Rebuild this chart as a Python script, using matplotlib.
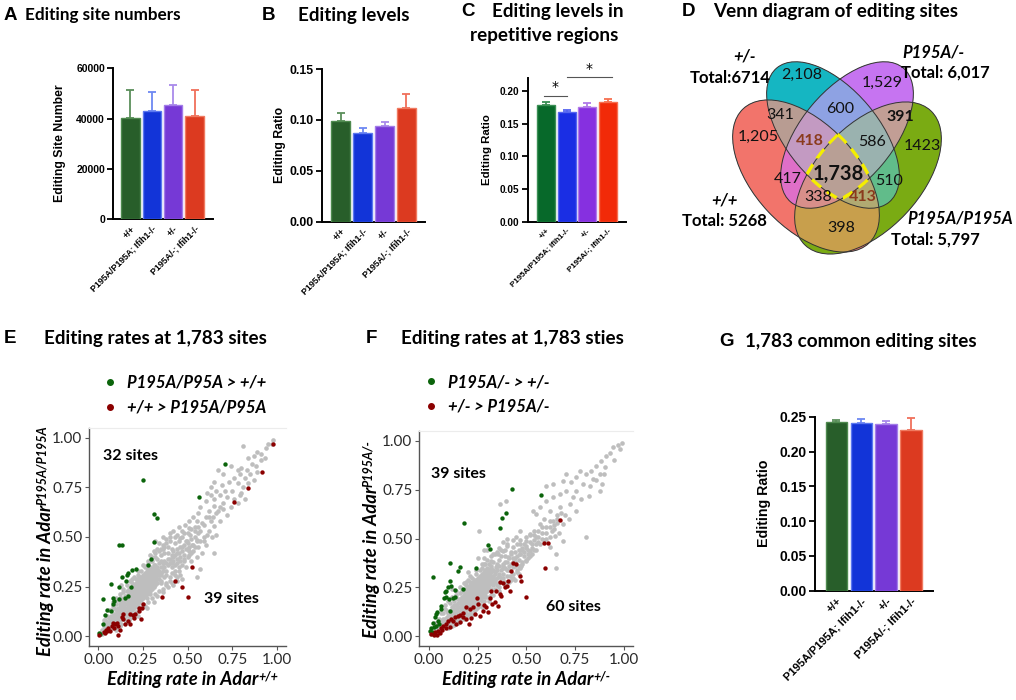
import numpy as np
import matplotlib
matplotlib.use('Agg')
from matplotlib import pyplot as plt
from matplotlib.patches import Ellipse
from matplotlib.lines import Line2D
import matplotlib.colors as mcolors

W, H = 1016, 700

# ---------------- data ----------------
groups = ['+/+', 'P195A/P195A; Ifih1-/-', '+/-', 'P195A/-; Ifih1-/-']

site_num = [40300, 43000, 45400, 41000]
site_num_err = [10900, 7700, 8100, 10200]

edit_level = [0.0989, 0.0868, 0.0943, 0.1113]
edit_level_err = [0.0081, 0.0049, 0.0033, 0.0145]

rep_level = [0.179, 0.168, 0.175, 0.183]
rep_level_err = [0.004, 0.003, 0.007, 0.005]

common_level = [0.2423, 0.2414, 0.2390, 0.2308]
common_level_err = [0.0034, 0.0057, 0.0053, 0.0178]

# venn regions, key = membership in (+/+, +/-, P195A/-, P195A/P195A)
venn_labels = {'1000': '1,205', '0100': '2,108', '0010': '1,529', '0001': '1423',
               '1100': '341', '0110': '600', '0011': '391', '1010': '417',
               '1001': '398', '0101': '510', '1110': '418', '0111': '586',
               '1011': '338', '1101': '413', '1111': '1,738'}
venn_sets = ['+/+', '+/-', 'P195A/-', 'P195A/P195A']
venn_totals = ['Total: 5268', 'Total:6714', 'Total: 6,017', 'Total: 5,797']

# scatter E: Adar+/+ (x) vs Adar P195A/P195A (y)
e_up = np.array([(0.707, 0.867), (0.249, 0.790), (0.566, 0.701), (0.314, 0.617), (0.331, 0.596),
                 (0.116, 0.462), (0.133, 0.459), (0.312, 0.475), (0.295, 0.391), (0.277, 0.358),
                 (0.210, 0.339), (0.191, 0.336), (0.168, 0.318), (0.161, 0.307), (0.133, 0.297),
                 (0.069, 0.264), (0.155, 0.277), (0.183, 0.249), (0.118, 0.247), (0.028, 0.188),
                 (0.081, 0.190), (0.088, 0.176), (0.116, 0.186), (0.148, 0.190), (0.051, 0.134),
                 (0.069, 0.129), (0.038, 0.106), (0.024, 0.059), (0.004, 0.017), (0.010, 0.009),
                 (0.081, 0.163), (0.165, 0.200)])
e_down = np.array([(0.980, 0.970), (0.916, 0.828), (0.839, 0.749), (0.759, 0.677), (0.525, 0.348),
                   (0.430, 0.277), (0.467, 0.249), (0.501, 0.199), (0.357, 0.197), (0.252, 0.163),
                   (0.243, 0.143), (0.230, 0.140), (0.206, 0.113), (0.193, 0.106), (0.178, 0.109),
                   (0.140, 0.113), (0.135, 0.096), (0.237, 0.084), (0.178, 0.059), (0.165, 0.076),
                   (0.103, 0.067), (0.093, 0.059), (0.081, 0.064), (0.075, 0.050), (0.112, 0.050),
                   (0.056, 0.039), (0.043, 0.030), (0.032, 0.022), (0.037, 0.014), (0.051, 0.025),
                   (0.112, 0.008), (0.006, 0.005), (0.140, 0.084), (0.200, 0.092), (0.066, 0.028),
                   (0.090, 0.042), (0.150, 0.060), (0.228, 0.126), (0.120, 0.030)])
e_gray = np.array([
    (0.98, 0.99), (0.97, 0.97), (0.95, 0.97), (0.94, 0.95), (0.81, 0.96), (0.89, 0.93), (0.91, 0.92),
    (0.87, 0.91), (0.84, 0.90), (0.91, 0.89), (0.86, 0.87), (0.80, 0.85), (0.83, 0.84), (0.78, 0.84),
    (0.89, 0.83), (0.74, 0.86), (0.79, 0.82), (0.82, 0.80), (0.85, 0.82), (0.76, 0.80), (0.87, 0.79),
    (0.70, 0.82), (0.73, 0.78), (0.78, 0.77), (0.81, 0.75), (0.80, 0.72), (0.79, 0.71), (0.82, 0.69),
    (0.75, 0.73), (0.69, 0.76), (0.71, 0.73), (0.66, 0.73), (0.68, 0.71), (0.72, 0.70), (0.78, 0.67),
    (0.70, 0.67), (0.65, 0.69), (0.63, 0.71), (0.67, 0.84), (0.645, 0.78), (0.63, 0.75), (0.61, 0.72),
    (0.60, 0.68), (0.645, 0.655), (0.67, 0.63), (0.70, 0.64), (0.62, 0.63), (0.57, 0.65), (0.56, 0.62),
    (0.60, 0.60), (0.63, 0.58), (0.645, 0.555), (0.68, 0.58), (0.72, 0.61), (0.59, 0.56), (0.55, 0.58),
    (0.53, 0.60), (0.51, 0.58), (0.54, 0.55), (0.57, 0.53), (0.61, 0.51), (0.635, 0.50), (0.66, 0.51),
    (0.88, 0.86), (0.93, 0.90), (0.76, 0.69), (0.84, 0.77), (0.74, 0.65),
    (0.505, 0.546), (0.486, 0.563), (0.467, 0.529), (0.514, 0.512), (0.552, 0.487), (0.589, 0.479),
    (0.523, 0.462), (0.495, 0.479), (0.458, 0.496), (0.439, 0.512), (0.45, 0.55), (0.42, 0.53),
    (0.40, 0.50), (0.43, 0.47), (0.47, 0.45), (0.50, 0.44), (0.53, 0.43), (0.56, 0.45), (0.38, 0.47),
    (0.41, 0.44), (0.44, 0.42), (0.48, 0.41), (0.46, 0.38), (0.42, 0.40), (0.39, 0.42), (0.36, 0.44),
    (0.35, 0.41), (0.37, 0.38), (0.40, 0.37), (0.43, 0.36), (0.45, 0.33), (0.49, 0.35), (0.52, 0.38),
    (0.55, 0.40), (0.34, 0.47), (0.33, 0.44), (0.32, 0.40), (0.34, 0.37), (0.36, 0.35), (0.38, 0.33),
    (0.41, 0.32), (0.44, 0.30), (0.47, 0.29), (0.40, 0.28), (0.37, 0.30), (0.35, 0.32), (0.33, 0.34),
    (0.31, 0.36), (0.30, 0.38), (0.29, 0.41), (0.31, 0.43), (0.28, 0.36), (0.42, 0.26), (0.38, 0.26),
    (0.35, 0.28), (0.60, 0.46), (0.58, 0.42), (0.48, 0.52), (0.36, 0.50), (0.32, 0.48), (0.65, 0.42),
    (0.57, 0.34), (0.55, 0.30),
    (0.01, 0.01), (0.02, 0.03), (0.03, 0.02), (0.03, 0.05), (0.04, 0.04), (0.05, 0.03), (0.05, 0.07),
    (0.06, 0.05), (0.06, 0.09), (0.07, 0.06), (0.07, 0.10), (0.08, 0.04), (0.08, 0.08), (0.09, 0.07),
    (0.09, 0.11), (0.10, 0.09), (0.10, 0.13), (0.10, 0.06), (0.11, 0.10), (0.11, 0.14), (0.12, 0.08),
    (0.12, 0.12), (0.12, 0.16), (0.13, 0.11), (0.13, 0.15), (0.14, 0.09), (0.14, 0.13), (0.14, 0.17),
    (0.15, 0.12), (0.15, 0.16), (0.15, 0.20), (0.16, 0.10), (0.16, 0.14), (0.16, 0.18), (0.17, 0.13),
    (0.17, 0.17), (0.17, 0.21), (0.18, 0.12), (0.18, 0.16), (0.18, 0.20), (0.18, 0.24), (0.19, 0.15),
    (0.19, 0.19), (0.19, 0.23), (0.20, 0.14), (0.20, 0.18), (0.20, 0.22), (0.20, 0.26), (0.21, 0.17),
    (0.21, 0.21), (0.21, 0.25), (0.22, 0.16), (0.22, 0.20), (0.22, 0.24), (0.22, 0.28), (0.23, 0.19),
    (0.23, 0.23), (0.23, 0.27), (0.24, 0.18), (0.24, 0.22), (0.24, 0.26), (0.24, 0.30), (0.25, 0.21),
    (0.25, 0.25), (0.25, 0.29), (0.26, 0.20), (0.26, 0.24), (0.26, 0.28), (0.26, 0.32), (0.27, 0.23),
    (0.27, 0.27), (0.27, 0.31), (0.28, 0.22), (0.28, 0.26), (0.28, 0.30), (0.28, 0.34), (0.29, 0.25),
    (0.29, 0.29), (0.29, 0.33), (0.30, 0.24), (0.30, 0.28), (0.30, 0.32), (0.31, 0.27), (0.31, 0.31),
    (0.31, 0.35), (0.32, 0.30), (0.32, 0.34), (0.33, 0.29), (0.33, 0.32), (0.34, 0.31), (0.05, 0.10),
    (0.04, 0.08), (0.07, 0.13), (0.09, 0.14), (0.11, 0.18), (0.13, 0.19), (0.14, 0.22), (0.16, 0.23),
    (0.19, 0.27), (0.21, 0.29), (0.12, 0.05), (0.15, 0.08), (0.18, 0.09), (0.20, 0.11), (0.23, 0.14),
    (0.25, 0.16), (0.27, 0.19), (0.29, 0.21), (0.10, 0.03), (0.03, 0.08), (0.13, 0.26), (0.22, 0.33),
    (0.25, 0.36), (0.08, 0.15), (0.32, 0.26), (0.35, 0.27),
    (0.02, 0.01), (0.04, 0.02), (0.04, 0.06), (0.06, 0.03), (0.06, 0.07), (0.08, 0.06), (0.08, 0.10),
    (0.09, 0.05), (0.10, 0.11), (0.11, 0.08), (0.11, 0.12), (0.12, 0.10), (0.12, 0.14), (0.13, 0.09),
    (0.13, 0.13), (0.13, 0.17), (0.14, 0.11), (0.14, 0.15), (0.15, 0.10), (0.15, 0.14), (0.15, 0.18),
    (0.16, 0.12), (0.16, 0.16), (0.16, 0.20), (0.17, 0.11), (0.17, 0.15), (0.17, 0.19), (0.18, 0.14),
    (0.18, 0.18), (0.18, 0.22), (0.19, 0.13), (0.19, 0.17), (0.19, 0.21), (0.19, 0.25), (0.20, 0.16),
    (0.20, 0.20), (0.20, 0.24), (0.21, 0.15), (0.21, 0.19), (0.21, 0.23), (0.21, 0.27), (0.22, 0.18),
    (0.22, 0.22), (0.22, 0.26), (0.23, 0.17), (0.23, 0.21), (0.23, 0.25), (0.23, 0.29), (0.24, 0.20),
    (0.24, 0.24), (0.24, 0.28), (0.25, 0.19), (0.25, 0.23), (0.25, 0.27), (0.25, 0.31), (0.26, 0.22),
    (0.26, 0.26), (0.26, 0.30), (0.27, 0.21), (0.27, 0.25), (0.27, 0.29), (0.27, 0.33), (0.28, 0.24),
    (0.28, 0.28), (0.28, 0.32), (0.29, 0.23), (0.29, 0.27), (0.29, 0.31), (0.29, 0.35), (0.30, 0.26),
    (0.30, 0.30), (0.30, 0.34), (0.31, 0.25), (0.31, 0.29), (0.31, 0.33), (0.32, 0.28), (0.32, 0.32),
    (0.32, 0.36), (0.33, 0.27), (0.33, 0.31), (0.33, 0.35), (0.34, 0.29), (0.34, 0.33), (0.35, 0.31),
    (0.35, 0.35), (0.36, 0.33), (0.36, 0.37), (0.37, 0.35), (0.38, 0.37), (0.39, 0.36), (0.39, 0.39),
    (0.40, 0.39), (0.41, 0.37), (0.41, 0.41), (0.42, 0.38), (0.42, 0.43), (0.43, 0.41), (0.44, 0.39),
    (0.44, 0.44), (0.45, 0.42), (0.46, 0.40), (0.46, 0.45), (0.47, 0.43), (0.48, 0.46), (0.49, 0.44),
    (0.50, 0.47), (0.51, 0.45), (0.52, 0.49), (0.53, 0.46), (0.54, 0.50), (0.55, 0.48), (0.56, 0.52),
    (0.37, 0.42), (0.39, 0.45), (0.35, 0.38), (0.38, 0.31), (0.43, 0.33), (0.47, 0.36), (0.51, 0.41),
    (0.05, 0.05), (0.07, 0.08), (0.09, 0.09), (0.10, 0.10), (0.11, 0.06)])
# outer edges of the E cloud
e_gray_wide = np.array([
    (0.06, 0.13), (0.08, 0.17), (0.10, 0.19), (0.12, 0.21), (0.14, 0.24), (0.16, 0.26), (0.18, 0.28),
    (0.20, 0.30), (0.22, 0.31), (0.24, 0.33), (0.26, 0.35), (0.28, 0.38), (0.30, 0.40), (0.32, 0.42),
    (0.34, 0.43), (0.36, 0.46), (0.38, 0.49), (0.40, 0.52), (0.10, 0.16), (0.12, 0.19), (0.17, 0.24),
    (0.19, 0.29), (0.23, 0.30), (0.27, 0.36), (0.29, 0.38), (0.33, 0.39), (0.35, 0.44),
    (0.10, 0.04), (0.13, 0.06), (0.16, 0.07), (0.19, 0.10), (0.21, 0.12), (0.24, 0.14), (0.26, 0.15),
    (0.28, 0.17), (0.30, 0.19), (0.32, 0.21), (0.34, 0.23), (0.36, 0.24), (0.38, 0.27), (0.40, 0.30),
    (0.43, 0.31), (0.45, 0.35), (0.48, 0.38), (0.50, 0.40), (0.52, 0.42), (0.17, 0.08), (0.22, 0.10),
    (0.27, 0.14), (0.31, 0.17), (0.33, 0.20), (0.36, 0.22), (0.39, 0.25), (0.41, 0.27), (0.44, 0.28),
    (0.46, 0.31),
    (0.37, 0.45), (0.40, 0.48), (0.43, 0.50), (0.45, 0.48), (0.47, 0.50), (0.49, 0.48), (0.50, 0.52),
    (0.52, 0.54), (0.54, 0.53), (0.56, 0.55), (0.58, 0.57), (0.41, 0.35), (0.44, 0.37), (0.48, 0.39),
    (0.51, 0.43), (0.54, 0.45), (0.57, 0.48), (0.59, 0.50), (0.62, 0.53), (0.64, 0.60), (0.66, 0.62),
    (0.68, 0.65), (0.62, 0.60)])

# scatter F: Adar+/- (x) vs Adar P195A/- (y)
f_up = np.array([(0.426, 0.753), (0.577, 0.722), (0.394, 0.628), (0.375, 0.603), (0.180, 0.579),
                 (0.363, 0.553), (0.304, 0.468), (0.315, 0.446), (0.106, 0.373), (0.161, 0.356),
                 (0.149, 0.335), (0.243, 0.349), (0.021, 0.305), (0.110, 0.284), (0.115, 0.259),
                 (0.175, 0.241), (0.132, 0.199), (0.081, 0.225), (0.089, 0.233), (0.098, 0.250),
                 (0.059, 0.156), (0.106, 0.131), (0.075, 0.196), (0.038, 0.114), (0.029, 0.097),
                 (0.046, 0.080), (0.021, 0.066), (0.034, 0.054), (0.012, 0.042), (0.004, 0.029),
                 (0.024, 0.046), (0.052, 0.063), (0.123, 0.196), (0.086, 0.203), (0.064, 0.139),
                 (0.042, 0.122), (0.103, 0.191), (0.135, 0.237), (0.017, 0.020)])
f_down = np.array([(0.671, 0.595), (0.589, 0.477), (0.611, 0.477), (0.596, 0.349), (0.432, 0.373),
                   (0.449, 0.369), (0.474, 0.285), (0.500, 0.199), (0.363, 0.276), (0.380, 0.271),
                   (0.401, 0.259), (0.415, 0.233), (0.372, 0.208), (0.363, 0.216), (0.312, 0.196),
                   (0.326, 0.165), (0.295, 0.148), (0.247, 0.196), (0.226, 0.151), (0.209, 0.139),
                   (0.192, 0.151), (0.175, 0.117), (0.158, 0.110), (0.149, 0.105), (0.132, 0.097),
                   (0.115, 0.088), (0.098, 0.080), (0.206, 0.063), (0.175, 0.097), (0.086, 0.063),
                   (0.072, 0.052), (0.059, 0.042), (0.046, 0.029), (0.029, 0.020), (0.012, 0.012),
                   (0.123, 0.077), (0.141, 0.063), (0.106, 0.049), (0.089, 0.042), (0.069, 0.032),
                   (0.337, 0.174), (0.389, 0.250), (0.303, 0.122), (0.260, 0.105), (0.320, 0.233),
                   (0.466, 0.310), (0.423, 0.335), (0.277, 0.131), (0.234, 0.114), (0.192, 0.088),
                   (0.158, 0.071), (0.055, 0.015), (0.346, 0.233), (0.406, 0.284), (0.355, 0.156),
                   (0.252, 0.165), (0.040, 0.008), (0.025, 0.005), (0.215, 0.095), (0.285, 0.160)])
f_gray = np.array([
    (0.99, 0.99), (0.97, 0.98), (0.98, 0.96), (0.945, 0.966), (0.911, 0.923), (0.885, 0.898),
    (0.903, 0.864), (0.860, 0.872), (0.834, 0.847), (0.877, 0.830), (0.842, 0.804), (0.808, 0.830),
    (0.774, 0.847), (0.757, 0.813), (0.731, 0.787), (0.706, 0.830), (0.688, 0.796), (0.791, 0.779),
    (0.826, 0.770), (0.877, 0.744), (0.757, 0.744), (0.706, 0.744), (0.671, 0.727), (0.637, 0.779),
    (0.603, 0.770), (0.637, 0.710), (0.603, 0.693), (0.569, 0.659), (0.551, 0.625), (0.534, 0.642),
    (0.671, 0.659), (0.723, 0.676), (0.757, 0.642), (0.808, 0.506), (0.688, 0.574), (0.637, 0.591),
    (0.603, 0.557), (0.569, 0.574), (0.542, 0.540), (0.517, 0.523), (0.500, 0.489), (0.466, 0.472),
    (0.551, 0.506), (0.646, 0.514), (0.688, 0.489), (0.654, 0.421), (0.620, 0.455), (0.466, 0.540),
    (0.449, 0.506), (0.432, 0.455), (0.652, 0.348), (0.257, 0.536), (0.363, 0.676), (0.397, 0.693),
    (0.93, 0.94), (0.86, 0.80), (0.82, 0.72), (0.78, 0.70), (0.74, 0.71), (0.70, 0.62), (0.72, 0.60),
    (0.66, 0.62), (0.62, 0.64), (0.59, 0.60), (0.58, 0.53), (0.60, 0.50), (0.63, 0.54), (0.67, 0.53),
    (0.56, 0.48), (0.53, 0.47), (0.90, 0.83), (0.95, 0.90), (0.89, 0.78),
    (0.380, 0.438), (0.406, 0.403), (0.466, 0.421), (0.500, 0.386), (0.517, 0.438), (0.355, 0.421),
    (0.320, 0.386), (0.346, 0.352), (0.380, 0.369), (0.432, 0.352), (0.474, 0.361), (0.380, 0.318),
    (0.415, 0.310), (0.44, 0.40), (0.48, 0.44), (0.50, 0.45), (0.42, 0.43), (0.40, 0.46), (0.36, 0.39),
    (0.33, 0.42), (0.31, 0.37), (0.34, 0.33), (0.37, 0.30), (0.40, 0.34), (0.45, 0.33), (0.49, 0.41),
    (0.53, 0.42), (0.55, 0.44), (0.39, 0.41), (0.43, 0.38), (0.46, 0.36), (0.35, 0.36), (0.32, 0.33),
    (0.30, 0.35), (0.29, 0.31), (0.31, 0.28), (0.33, 0.30), (0.36, 0.27), (0.39, 0.28), (0.42, 0.29),
    (0.28, 0.40), (0.30, 0.44), (0.27, 0.37),
    (0.01, 0.01), (0.02, 0.02), (0.03, 0.03), (0.03, 0.05), (0.04, 0.03), (0.05, 0.04), (0.05, 0.06),
    (0.06, 0.05), (0.06, 0.08), (0.07, 0.06), (0.07, 0.09), (0.08, 0.05), (0.08, 0.08), (0.09, 0.07),
    (0.09, 0.10), (0.10, 0.08), (0.10, 0.12), (0.10, 0.06), (0.11, 0.10), (0.11, 0.13), (0.12, 0.08),
    (0.12, 0.11), (0.12, 0.15), (0.13, 0.10), (0.13, 0.14), (0.14, 0.09), (0.14, 0.12), (0.14, 0.16),
    (0.15, 0.11), (0.15, 0.15), (0.15, 0.19), (0.16, 0.10), (0.16, 0.13), (0.16, 0.17), (0.17, 0.12),
    (0.17, 0.16), (0.17, 0.20), (0.18, 0.12), (0.18, 0.15), (0.18, 0.19), (0.18, 0.23), (0.19, 0.14),
    (0.19, 0.18), (0.19, 0.22), (0.20, 0.14), (0.20, 0.17), (0.20, 0.21), (0.20, 0.25), (0.21, 0.16),
    (0.21, 0.20), (0.21, 0.24), (0.22, 0.15), (0.22, 0.19), (0.22, 0.23), (0.22, 0.27), (0.23, 0.18),
    (0.23, 0.22), (0.23, 0.26), (0.24, 0.17), (0.24, 0.21), (0.24, 0.25), (0.24, 0.29), (0.25, 0.20),
    (0.25, 0.24), (0.25, 0.28), (0.26, 0.19), (0.26, 0.23), (0.26, 0.27), (0.26, 0.31), (0.27, 0.22),
    (0.27, 0.26), (0.27, 0.30), (0.28, 0.21), (0.28, 0.25), (0.28, 0.29), (0.28, 0.33), (0.29, 0.24),
    (0.29, 0.28), (0.29, 0.32), (0.30, 0.23), (0.30, 0.27), (0.30, 0.31), (0.31, 0.26), (0.31, 0.30),
    (0.31, 0.34), (0.32, 0.29), (0.32, 0.36), (0.33, 0.27), (0.33, 0.31), (0.34, 0.29), (0.05, 0.09),
    (0.04, 0.07), (0.07, 0.12), (0.09, 0.13), (0.11, 0.17), (0.13, 0.18), (0.14, 0.21), (0.16, 0.22),
    (0.19, 0.26), (0.21, 0.28), (0.12, 0.05), (0.15, 0.07), (0.18, 0.09), (0.20, 0.11), (0.23, 0.13),
    (0.25, 0.15), (0.27, 0.18), (0.29, 0.20), (0.10, 0.04), (0.03, 0.07), (0.12, 0.24), (0.21, 0.31),
    (0.24, 0.34), (0.08, 0.14), (0.32, 0.24), (0.35, 0.26), (0.36, 0.31), (0.38, 0.35),
    (0.02, 0.01), (0.04, 0.02), (0.04, 0.05), (0.06, 0.03), (0.06, 0.06), (0.08, 0.06), (0.08, 0.09),
    (0.09, 0.05), (0.10, 0.10), (0.11, 0.07), (0.11, 0.11), (0.12, 0.09), (0.12, 0.13), (0.13, 0.08),
    (0.13, 0.12), (0.13, 0.16), (0.14, 0.10), (0.14, 0.14), (0.15, 0.09), (0.15, 0.13), (0.15, 0.17),
    (0.16, 0.11), (0.16, 0.15), (0.16, 0.19), (0.17, 0.10), (0.17, 0.14), (0.17, 0.18), (0.18, 0.13),
    (0.18, 0.17), (0.18, 0.21), (0.19, 0.12), (0.19, 0.16), (0.19, 0.20), (0.19, 0.24), (0.20, 0.15),
    (0.20, 0.19), (0.20, 0.23), (0.21, 0.14), (0.21, 0.18), (0.21, 0.22), (0.21, 0.26), (0.22, 0.17),
    (0.22, 0.21), (0.22, 0.25), (0.23, 0.16), (0.23, 0.20), (0.23, 0.24), (0.23, 0.28), (0.24, 0.19),
    (0.24, 0.23), (0.24, 0.27), (0.25, 0.18), (0.25, 0.22), (0.25, 0.26), (0.25, 0.30), (0.26, 0.21),
    (0.26, 0.25), (0.26, 0.29), (0.27, 0.20), (0.27, 0.24), (0.27, 0.28), (0.27, 0.32), (0.28, 0.23),
    (0.28, 0.27), (0.28, 0.31), (0.29, 0.22), (0.29, 0.26), (0.29, 0.30), (0.29, 0.34), (0.30, 0.25),
    (0.30, 0.29), (0.30, 0.33), (0.31, 0.24), (0.31, 0.28), (0.31, 0.32), (0.32, 0.27), (0.32, 0.31),
    (0.32, 0.35), (0.33, 0.26), (0.33, 0.30), (0.33, 0.34), (0.34, 0.28), (0.34, 0.32), (0.35, 0.30),
    (0.35, 0.34), (0.36, 0.32), (0.36, 0.36), (0.37, 0.34), (0.38, 0.36), (0.39, 0.35), (0.39, 0.38),
    (0.40, 0.38), (0.41, 0.36), (0.41, 0.40), (0.42, 0.37), (0.42, 0.42), (0.43, 0.40), (0.44, 0.38),
    (0.44, 0.43), (0.45, 0.41), (0.46, 0.39), (0.46, 0.44), (0.47, 0.42), (0.48, 0.45), (0.49, 0.43),
    (0.50, 0.46), (0.51, 0.44), (0.52, 0.48), (0.53, 0.45), (0.54, 0.49), (0.55, 0.47), (0.56, 0.51),
    (0.37, 0.41), (0.39, 0.44), (0.35, 0.37), (0.38, 0.30), (0.43, 0.32), (0.47, 0.35), (0.51, 0.40),
    (0.05, 0.05), (0.07, 0.07), (0.09, 0.08), (0.10, 0.09), (0.11, 0.05), (0.58, 0.50), (0.60, 0.53),
    (0.62, 0.56), (0.64, 0.57), (0.66, 0.60)])
# outer edges of the F cloud
f_gray_wide = np.array([
    (0.06, 0.12), (0.08, 0.16), (0.10, 0.18), (0.12, 0.20), (0.14, 0.23), (0.16, 0.25), (0.18, 0.27),
    (0.20, 0.29), (0.22, 0.30), (0.24, 0.32), (0.26, 0.34), (0.28, 0.37), (0.30, 0.39), (0.32, 0.41),
    (0.34, 0.42), (0.36, 0.45), (0.38, 0.48), (0.40, 0.50), (0.17, 0.23), (0.19, 0.28), (0.23, 0.29),
    (0.27, 0.35), (0.29, 0.37), (0.33, 0.38), (0.35, 0.43), (0.20, 0.33), (0.25, 0.40), (0.28, 0.44),
    (0.13, 0.06), (0.16, 0.08), (0.19, 0.10), (0.21, 0.12), (0.24, 0.14), (0.26, 0.16), (0.28, 0.18),
    (0.30, 0.20), (0.32, 0.21), (0.34, 0.24), (0.36, 0.25), (0.38, 0.28), (0.40, 0.31), (0.43, 0.30),
    (0.45, 0.34), (0.48, 0.37), (0.50, 0.39), (0.52, 0.41), (0.22, 0.11), (0.27, 0.15), (0.31, 0.18),
    (0.33, 0.21), (0.36, 0.23), (0.39, 0.26), (0.41, 0.28), (0.44, 0.29), (0.46, 0.32),
    (0.37, 0.44), (0.40, 0.47), (0.43, 0.49), (0.45, 0.47), (0.47, 0.49), (0.49, 0.47), (0.50, 0.51),
    (0.52, 0.52), (0.54, 0.52), (0.56, 0.54), (0.58, 0.56), (0.41, 0.34), (0.44, 0.36), (0.48, 0.38),
    (0.51, 0.42), (0.54, 0.44), (0.57, 0.47), (0.59, 0.49), (0.62, 0.51), (0.64, 0.55), (0.66, 0.58),
    (0.68, 0.63), (0.62, 0.59)])

e_legend = ['P195A/P95A > +/+', '+/+ > P195A/P95A']
f_legend = ['P195A/- > +/-', '+/- > P195A/-']
e_counts = ['32 sites', '39 sites']
f_counts = ['39 sites', '60 sites']

# ---------------- style ----------------
ARIAL = 'Liberation Sans'
CALI = 'Lato'
bar_cols = ['#285e2a', '#1234d8', '#7639d6', '#dc3a20']
bar_edge = ['#4f8a4f', '#5b78f0', '#a27ce8', '#f07a60']
err_cols = ['#5a8f5a', '#6d88f2', '#a98aea', '#f0705a']
rep_cols = ['#07692a', '#1a2ee4', '#8630e0', '#f22a08']
rep_edge = ['#3b8f55', '#5565f0', '#b07ae8', '#f77050']

fig = plt.figure(figsize=(W / 100, H / 100), dpi=100)


def px_axes(l, t, r, b):
    return fig.add_axes([l / W, 1 - b / H, (r - l) / W, (b - t) / H])


def ftxt(x, y, s, **kw):
    return fig.text(x / W, 1 - y / H, s, **kw)


def bar_panel(box, vals, errs, ylim, yticks, fmt, cols, edges, ecols, xlim,
              tick_fs, xtick_fs, ylab, ylab_x, ylab_fs):
    ax = px_axes(*box)
    x = np.arange(len(vals))
    ax.bar(x, vals, width=0.86, color=cols, edgecolor=edges, linewidth=1.0, zorder=3)
    for i in range(len(vals)):
        ax.errorbar(x[i], vals[i], yerr=[[0], [errs[i]]], fmt='none', ecolor=ecols[i],
                    elinewidth=1.3, capsize=3.2, capthick=1.3, zorder=2)
    ax.set_xlim(*xlim)
    ax.set_ylim(*ylim)
    ax.set_yticks(yticks)
    ax.set_yticklabels([fmt.format(v) for v in yticks], fontsize=tick_fs,
                       fontweight='bold', family=ARIAL)
    ax.set_xticks(x)
    ax.set_xticklabels(groups, rotation=45, ha='right', rotation_mode='anchor',
                       fontsize=xtick_fs, fontweight='bold', family=ARIAL)
    for s in ['top', 'right']:
        ax.spines[s].set_visible(False)
    for s in ['left', 'bottom']:
        ax.spines[s].set_linewidth(1.4)
    ax.tick_params(axis='y', length=4, width=1.3, pad=2)
    ax.tick_params(axis='x', length=0, pad=4)
    # y label as free text so the column position matches
    l, t, r, b = box
    ftxt(ylab_x, (t + b) / 2, ylab, rotation=90, ha='center', va='center',
         fontsize=ylab_fs, fontweight='bold', family=ARIAL)
    return ax


# A
bar_panel((113.3, 68.3, 213.3, 219), site_num, site_num_err, (0, 60000),
          [0, 20000, 40000, 60000], '{:.0f}', bar_cols, bar_edge, err_cols,
          (-0.8, 3.87), 7.5, 6.4, 'Editing Site Number', 60, 8.8)
# B
bar_panel((321.7, 69, 425, 221.7), edit_level, edit_level_err, (0, 0.15),
          [0, 0.05, 0.10, 0.15], '{:.2f}', bar_cols, bar_edge, err_cols,
          (-0.87, 3.85), 8.8, 6.4, 'Editing Ratio', 279.5, 8.8)
# C
axc = bar_panel((527.7, 78, 626, 221.7), rep_level, rep_level_err, (0, 0.22),
                [0, 0.05, 0.10, 0.15, 0.20], '{:.2f}', rep_cols, rep_edge, rep_edge,
                (-0.88, 3.87), 7.2, 5.8, 'Editing Ratio', 487, 8.2)
# significance marks on C
for (x0, x1, yl) in [(0, 1, 0.193), (1.1, 3.2, 0.2215)]:
    axc.plot([x0 - 0.1, x1], [yl, yl], color='#555555', lw=0.8, clip_on=False)
    axc.text((x0 - 0.1 + x1) / 2, yl + 0.002, '*', ha='center', va='bottom',
             fontsize=10, clip_on=False)
# G
bar_panel((815, 416.7, 932.7, 590.7), common_level, common_level_err, (0, 0.25),
          [0, 0.05, 0.10, 0.15, 0.20, 0.25], '{:.2f}', bar_cols, bar_edge, err_cols,
          (-0.86, 3.87), 10, 8, 'Editing Ratio', 764.3, 10.2)

# titles
tkw = dict(fontsize=13.6, fontweight='bold', family=CALI, va='center')
lkw = dict(fontsize=13.5, fontweight='bold', family=ARIAL, va='center')
ftxt(4, 15, 'A', **lkw)
ftxt(25, 15, 'Editing site numbers', **dict(tkw, fontsize=12.3))
ftxt(262, 15, 'B', **lkw)
ftxt(298, 15, 'Editing levels', **tkw)
ftxt(461, 12, 'C', **lkw)
ftxt(492, 12, 'Editing levels in', **tkw)
ftxt(470, 36, 'repetitive regions', **tkw)
ftxt(682, 12, 'D', **lkw)
ftxt(713, 12, 'Venn diagram of editing sites', **tkw)
ftxt(4, 339, 'E', **lkw)
ftxt(44, 339, 'Editing rates at 1,783 sites', **tkw)
ftxt(366, 339, 'F', **lkw)
ftxt(401, 339, 'Editing rates at 1,783 sties', **tkw)
ftxt(719, 342, 'G', **lkw)
ftxt(745, 342, '1,783 common editing sites', **tkw)

# ---------------- D: venn ----------------
axv = px_axes(680, 40, 1016, 260)
axv.set_xlim(680, 1016)
axv.set_ylim(260, 40)
axv.axis('off')
ellipses = [((806, 176), 184, 104, 47),    # +/+
            ((833, 135), 175, 92, 50),     # +/-
            ((847, 135), 175, 92, -50),    # P195A/-
            ((868, 178), 184, 104, -47)]   # P195A/P195A
region_cols = {'1000': '#f3756b', '0100': '#16b7c2', '0010': '#c774f2', '0001': '#7aab14',
               '1100': '#b89c93', '0110': '#8ea2e3', '0011': '#c29e96', '1010': '#e070c8',
               '1001': '#c99f4c', '0101': '#62bd8a', '1110': '#c49ac2', '0111': '#9ab2b0',
               '1011': '#d9908a', '1101': '#b1aa72', '1111': '#b9a095'}
gx = np.linspace(680, 1016, 1008)
gy = np.linspace(40, 260, 660)
GX, GY = np.meshgrid(gx, gy)
masks = []
for (cx, cy), w, h, ang in ellipses:
    t = np.deg2rad(ang)
    dx, dy = GX - cx, GY - cy
    u = dx * np.cos(t) + dy * np.sin(t)
    v = -dx * np.sin(t) + dy * np.cos(t)
    masks.append((u / (w / 2)) ** 2 + (v / (h / 2)) ** 2 <= 1)
img = np.zeros(GX.shape + (4,))
for key, col in region_cols.items():
    sel = np.ones(GX.shape, bool)
    for m, bit in zip(masks, key):
        sel &= m if bit == '1' else ~m
    img[sel] = mcolors.to_rgba(col)
axv.imshow(img, extent=(680, 1016, 260, 40), origin='upper', aspect='auto',
           interpolation='antialiased', zorder=1)
for (cx, cy), w, h, ang in ellipses:
    axv.add_patch(Ellipse((cx, cy), w, h, angle=ang, fill=False, ec='#333333', lw=0.7, zorder=2))
all4 = masks[0] & masks[1] & masks[2] & masks[3]
axv.contour(GX, GY, all4.astype(float), levels=[0.5], colors='#f4ee00',
            linewidths=2.2, linestyles=[(0, (4, 2.5))], zorder=3)

label_pos = {'0100': (802, 75), '0010': (882, 83), '0110': (840, 109), '1100': (780, 115),
             '0011': (900, 117), '1000': (758, 137), '1110': (810, 141), '0111': (872, 142),
             '0001': (922, 146), '1010': (788, 179), '1111': (838, 174), '0101': (889, 181),
             '1011': (818, 197), '1101': (863, 197), '1001': (841, 228)}
for key, (x, y) in label_pos.items():
    kw = dict(fontsize=11.5, family=CALI, ha='center', va='center', color='#111111', zorder=4)
    if key == '1111':
        kw.update(fontsize=14.5, fontweight='bold')
    elif key in ('1110', '1101'):
        kw.update(fontweight='bold', color='#8a3a1c')
    elif key == '0011':
        kw.update(fontweight='bold')
    axv.text(x, y, venn_labels[key], **kw)

skw = dict(fontsize=12, fontweight='bold', style='italic', family=CALI, va='center')
nkw = dict(fontsize=12, fontweight='bold', family=CALI, va='center')
ftxt(745, 56, venn_sets[1], ha='center', **skw)
ftxt(730, 78, venn_totals[1], ha='center', **nkw)
ftxt(933, 52, venn_sets[2], ha='center', **skw)
ftxt(945, 73, venn_totals[2], ha='center', **nkw)
ftxt(724, 200, venn_sets[0], ha='center', **skw)
ftxt(724, 221, venn_totals[0], ha='center', **nkw)
ftxt(960, 218, venn_sets[3], ha='center', **skw)
ftxt(935, 240, venn_totals[3], ha='center', **nkw)


# ---------------- E / F scatter ----------------
def scatter_panel(box, gray, up, down, legend, counts, count_pos, leg_xy,
                  xlab, xsup, xlab_xy, ylab, ysup, ylab_xy):
    ax = px_axes(*box)
    ax.scatter(gray[:, 0], gray[:, 1], s=11, color='#bebebe', lw=0, zorder=2)
    ax.scatter(up[:, 0], up[:, 1], s=10, color='#0b640b', lw=0, zorder=3)
    ax.scatter(down[:, 0], down[:, 1], s=10, color='#8b0000', lw=0, zorder=3)
    ax.set_xlim(-0.05, 1.05)
    ax.set_ylim(-0.05, 1.05)
    ticks = [0, 0.25, 0.5, 0.75, 1.0]
    ax.set_xticks(ticks)
    ax.set_yticks(ticks)
    ax.set_xticklabels(['{:.2f}'.format(v) for v in ticks], fontsize=11, family=CALI, color='#2a2a2a')
    ax.set_yticklabels(['{:.2f}'.format(v) for v in ticks], fontsize=11, family=CALI, color='#2a2a2a')
    ax.spines['right'].set_visible(False)
    ax.spines['top'].set_color('#ececec')
    ax.spines['top'].set_linewidth(0.8)
    for s in ['left', 'bottom']:
        ax.spines[s].set_color('#555555')
        ax.spines[s].set_linewidth(1.0)
    ax.tick_params(length=3, width=0.8, color='#555555', pad=2)
    for txt, (x, y) in zip(counts, count_pos):
        ax.text(x, y, txt, fontsize=11.5, fontweight='bold', family=CALI, ha='left', va='center')
    handles = [Line2D([], [], ls='', marker='o', ms=4, color='#0b640b'),
               Line2D([], [], ls='', marker='o', ms=4, color='#8b0000')]
    ax.legend(handles, legend, loc='upper left', bbox_to_anchor=(leg_xy[0] / W, 1 - leg_xy[1] / H),
              bbox_transform=fig.transFigure, frameon=False, handlelength=0.6, handletextpad=0.7,
              labelspacing=0.5, borderpad=0, borderaxespad=0,
              prop=dict(family=CALI, weight='bold', style='italic', size=12))
    lab = dict(fontsize=13.3, fontweight='bold', style='italic', family=CALI)
    sup = dict(fontsize=9, fontweight='bold', style='italic', family=CALI)
    t1 = ftxt(xlab_xy[0], xlab_xy[1], xlab, ha='left', va='center', **lab)
    ax.annotate(xsup, xy=(1, 1), xycoords=t1, ha='left', va='top', annotation_clip=False, **sup)
    t2 = ftxt(ylab_xy[0], ylab_xy[1], ylab, ha='left', va='center', rotation=90,
              rotation_mode='anchor', **lab)
    ax.annotate(ysup, xy=(0, 1), xycoords=t2, ha='left', va='top', rotation=90,
                rotation_mode='anchor', annotation_clip=False, **sup)
    return ax


scatter_panel((89.3, 428, 286, 646), np.vstack([e_gray, e_gray_wide]), e_up, e_down,
              e_legend, e_counts, [(0.026, 0.907), (0.59, 0.185)], (105, 375),
              'Editing rate in Adar', '+/+', (107, 679),
              'Editing rate in Adar', 'P195A/P195A', (45, 656))
scatter_panel((419.3, 431, 633.3, 646), np.vstack([f_gray, f_gray_wide]), f_up, f_down,
              f_legend, f_counts, [(0.012, 0.83), (0.603, 0.148)], (426, 374),
              'Editing rate in Adar', '+/-', (441.7, 679),
              'Editing rate in Adar', 'P195A/-', (371, 638))

fig.savefig('out.png', dpi=100)
